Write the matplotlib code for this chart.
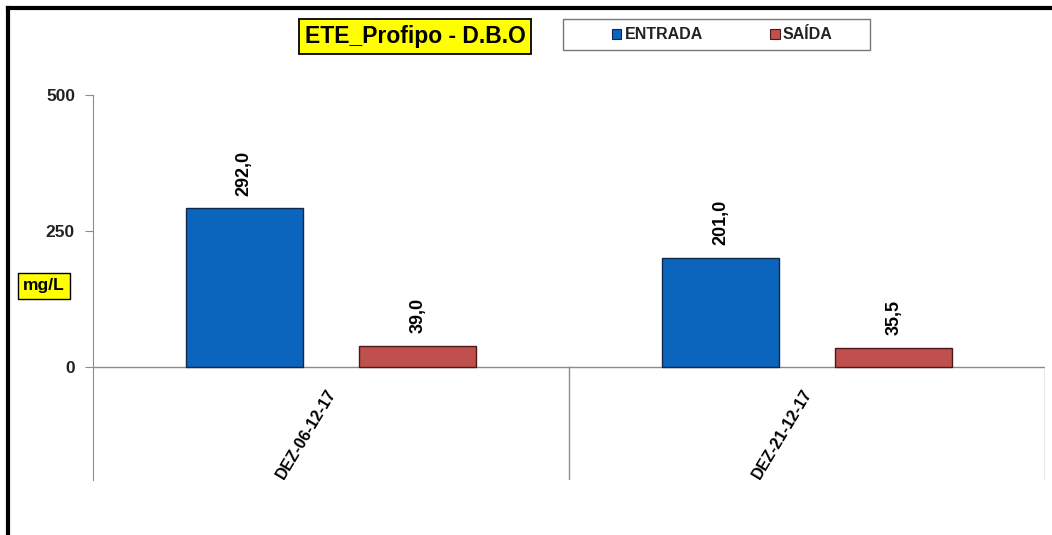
import numpy as np
import matplotlib.pyplot as plt
from matplotlib.lines import Line2D
from matplotlib.patches import Rectangle

plt.rcParams['font.family'] = ['Liberation Sans', 'DejaVu Sans']
plt.rcParams['font.weight'] = 'bold'

# data
categories = ['DEZ-06-12-17', 'DEZ-21-12-17']
entrada = [292.0, 201.0]
saida = [39.0, 35.5]
series_names = ['ENTRADA', 'SAÍDA']
yticks = [0, 250, 500]

blue = '#0b65bd'
red = '#c0504d'
grid_grey = '#8c8c8c'

fig = plt.figure(figsize=(10.52, 5.35), dpi=100)
ax = fig.add_axes([0.0884, 0.1028, 0.905, 0.7196])

x = np.arange(len(categories)) + 0.5
w = 0.245
off = 0.182
b1 = ax.bar(x - off, entrada, w, color=blue, edgecolor='#0d2a4a', linewidth=1.0, zorder=3)
b2 = ax.bar(x + off, saida, w, color=red, edgecolor='#4a1a18', linewidth=1.0, zorder=3)

for bars, vals in ((b1, entrada), (b2, saida)):
    for b, v in zip(bars, vals):
        ax.annotate(f'{v:.1f}'.replace('.', ','),
                    (b.get_x() + b.get_width() / 2, v),
                    xytext=(0, 9), textcoords='offset points',
                    rotation=90, ha='center', va='bottom',
                    fontsize=13, fontweight='bold')

ymin = -208
ax.set_ylim(ymin, 500)
ax.set_xlim(0, len(categories))
ax.set_yticks(yticks)
ax.set_yticklabels([str(t) for t in yticks], fontsize=12.5, fontweight='bold', color='#222222')
ax.tick_params(axis='y', length=6, color=grid_grey, pad=7)

# category axis at zero with separators down to the bottom
ax.axhline(0, color=grid_grey, linewidth=1.0, zorder=2)
for xb in range(1, len(categories) + 1):
    ax.plot([xb, xb], [ymin, 0], color=grid_grey, linewidth=1.0, zorder=2)

ax.set_xticks([])
for xc, lab in zip(x, categories):
    ax.text(xc - 0.01, -36, lab, rotation=59, ha='right', va='top',
            rotation_mode='anchor', fontsize=11.5, fontweight='bold')

for s in ['top', 'right', 'bottom']:
    ax.spines[s].set_visible(False)
ax.spines['left'].set_color(grid_grey)

# title box
fig.text(0.3945, 0.932, 'ETE_Profipo - D.B.O', ha='center', va='center',
         fontsize=16.5, fontweight='bold',
         bbox=dict(boxstyle='square,pad=0.26', facecolor='#ffff00', edgecolor='black', linewidth=1.3))

# unit label
fig.text(0.0418, 0.4655, 'mg/L', ha='center', va='center', fontsize=12.5, fontweight='bold',
         bbox=dict(boxstyle='square,pad=0.3', facecolor='#ffff00', edgecolor='black', linewidth=1.0))

# legend box
fig.add_artist(Rectangle((563 / 1052, 1 - 50 / 535), 307 / 1052, 31 / 535,
                         transform=fig.transFigure, facecolor='white',
                         edgecolor='#777777', linewidth=1.0))
handles = [Rectangle((0, 0), 1, 1, facecolor=blue, edgecolor='#0d2a4a', linewidth=0.8),
           Rectangle((0, 0), 1, 1, facecolor=red, edgecolor='#4a1a18', linewidth=0.8)]
leg = fig.legend(handles, series_names, loc='center', bbox_to_anchor=(0.6865, 0.935),
                 ncol=2, frameon=False,
                 handlelength=0.6, handleheight=0.6, handletextpad=0.2, columnspacing=4.2,
                 prop={'weight': 'bold', 'size': 11.5})
for t in leg.get_texts():
    t.set_color('#222222')

# outer frame (top and left)
fig.add_artist(Line2D([0.008, 1.0], [0.985, 0.985], transform=fig.transFigure, color='black', linewidth=3))
fig.add_artist(Line2D([0.008, 0.008], [0.0, 0.985], transform=fig.transFigure, color='black', linewidth=3))

fig.savefig('out.png', dpi=100)
